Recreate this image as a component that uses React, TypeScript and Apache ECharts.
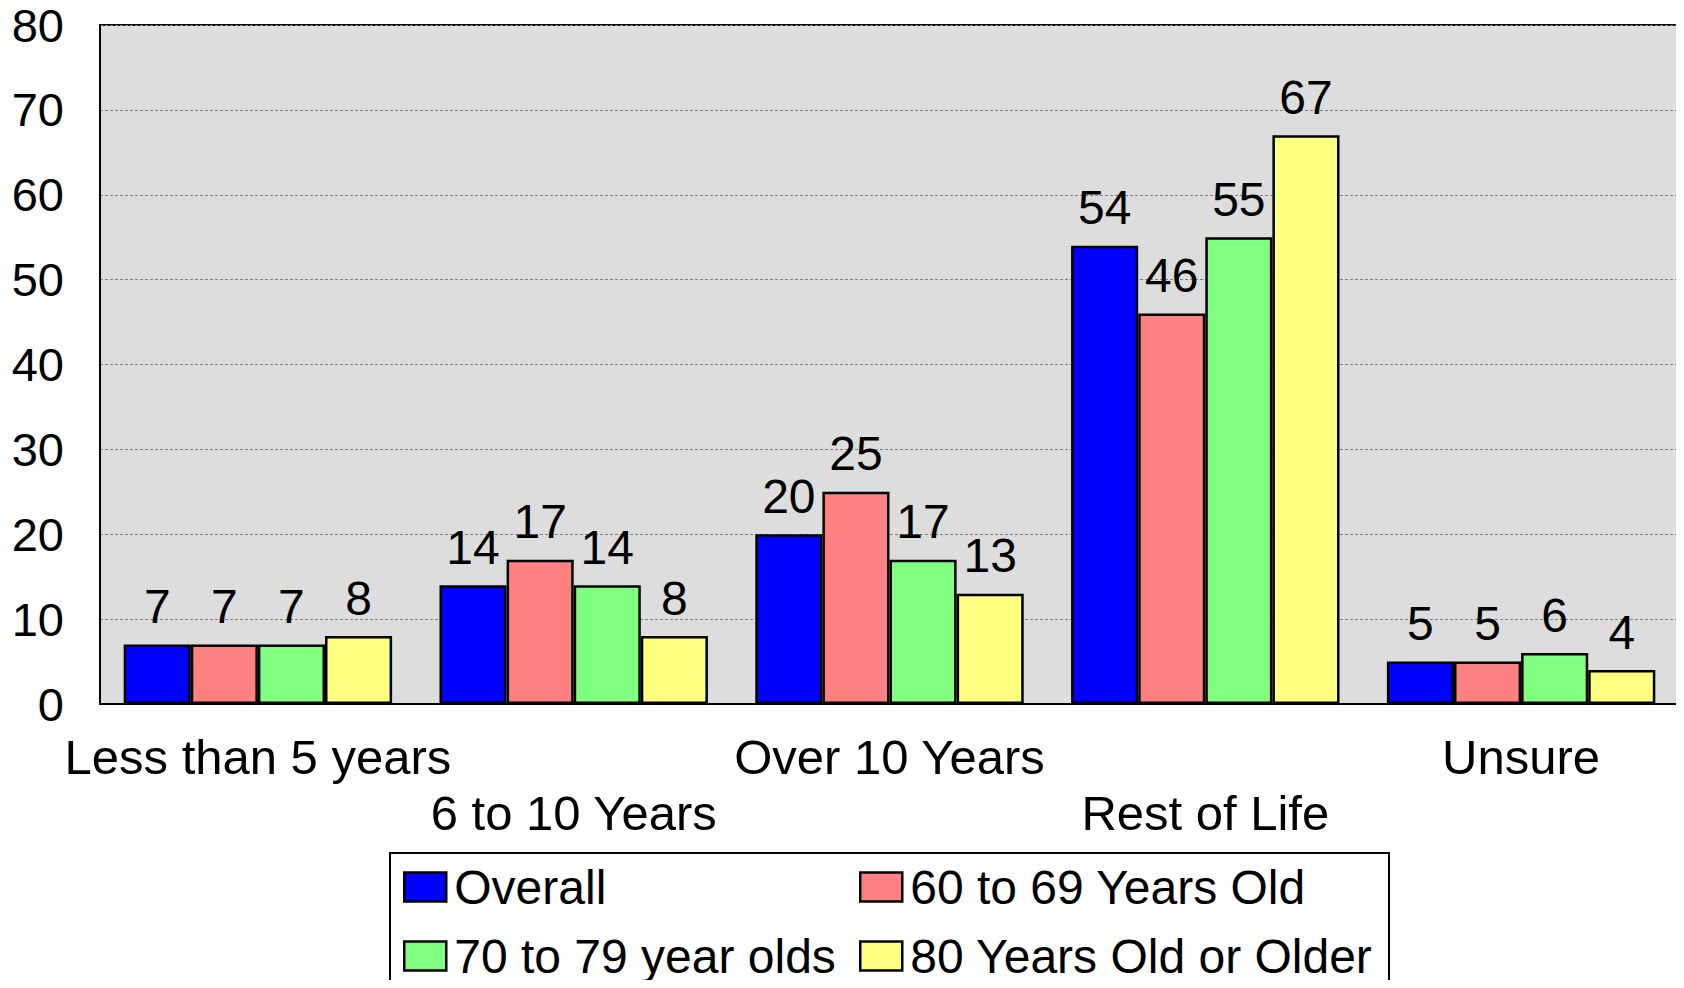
import React, { useEffect, useRef } from "react";
import * as echarts from "echarts";

const categories = ["Less than 5 years", "6 to 10 Years", "Over 10 Years", "Rest of Life", "Unsure"];
const seriesNames = ["Overall", "60 to 69 Years Old", "70 to 79 year olds", "80 Years Old or Older"];
const overall = [7, 14, 20, 54, 5];
const age60s = [7, 17, 25, 46, 5];
const age70s = [7, 14, 17, 55, 6];
const age80plus = [8, 8, 13, 67, 4];
const colors = ["#0000FF", "#FF8080", "#80FF80", "#FFFF80"];
const yTicks = { min: 0, max: 80, interval: 10 };

const FONT = "'Liberation Sans', Arial, sans-serif";

export default function App() {
  const ref = useRef<HTMLDivElement>(null);
  useEffect(() => {
    const chart = echarts.init(ref.current!, undefined, { renderer: "svg" });
    const values = [overall, age60s, age70s, age80plus];
    const series = seriesNames.map((name, i) => ({
      name,
      type: "bar",
      data: values[i],
      barGap: "0%",
      barCategoryGap: "15%",
      itemStyle: { color: colors[i], borderColor: "#000", borderWidth: 2.5 },
      label: {
        show: true,
        position: "top",
        distance: 14,
        color: "#000",
        fontSize: 48,
        fontFamily: FONT,
      },
    }));
    const legendCommon = {
      orient: "vertical",
      padding: 0,
      itemWidth: 42,
      itemHeight: 29,
      itemGap: 19,
      icon: "rect",
      textStyle: { fontSize: 48, fontFamily: FONT, color: "#000", padding: [0, 0, 0, 3], lineHeight: 50 },
      itemStyle: { borderColor: "#000", borderWidth: 2.5 },
    };
    chart.setOption({
      animation: false,
      backgroundColor: "#fff",
      grid: {
        left: 100,
        right: 5,
        top: 25,
        bottom: 284,
        show: true,
        backgroundColor: "#DDDDDD",
        borderColor: "#000",
        borderWidth: 2,
      },
      legend: [
        { ...legendCommon, left: 403, top: 862, data: [seriesNames[0], seriesNames[2]] },
        { ...legendCommon, left: 859, top: 862, data: [seriesNames[1], seriesNames[3]] },
      ],
      graphic: [
        {
          type: "rect",
          shape: { x: 390, y: 853, width: 999, height: 200 },
          style: { fill: "none", stroke: "#000", lineWidth: 2 },
          z: 100,
        },
      ],
      xAxis: {
        type: "category",
        data: categories,
        axisLine: { lineStyle: { color: "#000", width: 2 } },
        axisTick: { show: false },
        axisLabel: {
          interval: 0,
          margin: 25,
          color: "#000",
          fontSize: 49,
          fontFamily: FONT,
          lineHeight: 56,
          formatter: (v: string, idx: number) => (idx % 2 === 1 ? "\n" + v : v),
        },
      },
      yAxis: {
        type: "value",
        min: yTicks.min,
        max: yTicks.max,
        interval: yTicks.interval,
        axisLine: { show: true, lineStyle: { color: "#000", width: 2 } },
        axisTick: { show: false },
        axisLabel: { margin: 36, color: "#000", fontSize: 47, lineHeight: 40, fontFamily: FONT },
        splitLine: { lineStyle: { color: "#808080", type: [3, 2], width: 1 } },
      },
      series,
    });
    return () => chart.dispose();
  }, []);
  return <div ref={ref} style={{ width: 1684, height: 988, margin: -8 }} />;
}
